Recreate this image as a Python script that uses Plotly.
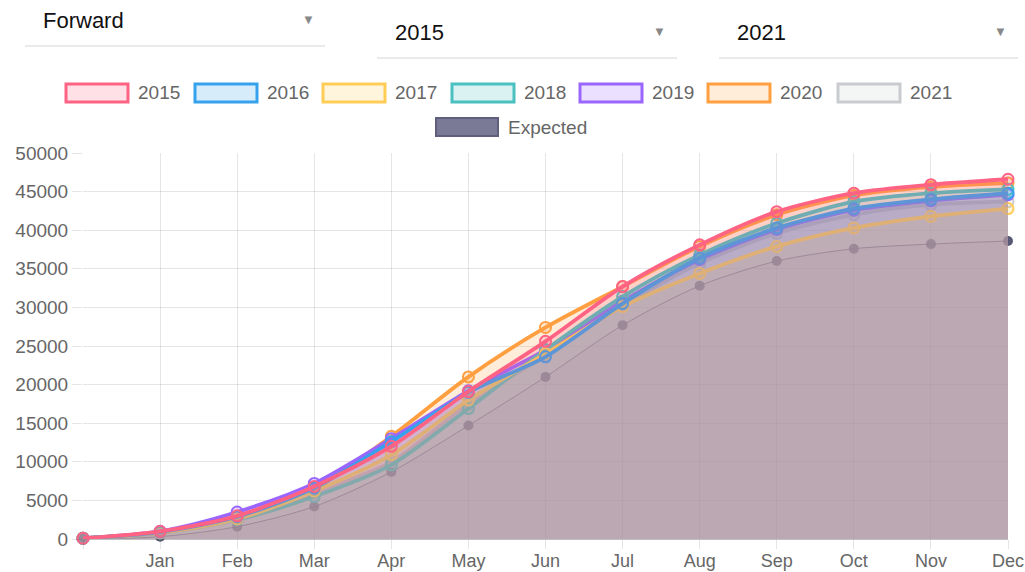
import plotly.graph_objects as go

months = ["", "Jan", "Feb", "Mar", "Apr", "May", "Jun", "Jul", "Aug", "Sep", "Oct", "Nov", "Dec"]

y2015 = [100, 1000, 3000, 6800, 12000, 19100, 25600, 32700, 38100, 42400, 44800, 45900, 46600]
y2016 = [100, 900, 2900, 6600, 12600, 19000, 23600, 30500, 36400, 40300, 42800, 44000, 44800]
y2017 = [100, 800, 2600, 6200, 10900, 18000, 24000, 30100, 34400, 37900, 40300, 41800, 42800]
y2018 = [100, 800, 2500, 5500, 9600, 16900, 24500, 31400, 36800, 40900, 43700, 44800, 45300]
y2019 = [100, 1000, 3500, 7200, 13000, 19200, 24500, 30800, 36200, 40100, 42600, 43800, 44600]
y2020 = [100, 900, 2800, 6500, 13300, 21000, 27400, 32700, 37900, 42000, 44500, 45600, 46100]
y2021 = [100, 800, 2700, 6000, 10000, 17500, 23800, 30200, 35700, 39600, 42000, 43300, 43700]
expected = [0, 300, 1600, 4200, 8700, 14700, 21000, 27700, 32800, 36000, 37600, 38200, 38600]

years = ["2015", "2016", "2017", "2018", "2019", "2020", "2021"]
series = [y2015, y2016, y2017, y2018, y2019, y2020, y2021]
colors = [(255, 99, 132), (54, 162, 235), (255, 205, 86), (75, 192, 192),
          (153, 102, 255), (255, 159, 64), (201, 203, 207)]

dropdown_labels = ["Forward", "2015", "2021"]

FONT = "Liberation Sans, Arial, Helvetica, sans-serif"
W, H = 1025, 572
L, R, T, B = 83, 1008, 153, 539

xs = list(range(len(months)))

fig = go.Figure()

# Expected drawn first (bottom), like Chart.js reverse draw order
fig.add_trace(go.Scatter(
    x=xs, y=expected, name="Expected", mode="lines+markers",
    line=dict(color="rgba(60,60,95,0.85)", width=1, shape="spline", smoothing=0.8),
    marker=dict(size=10, color="rgba(60,60,95,0.85)", line=dict(width=0)),
    fill="tozeroy", fillcolor="rgba(60,60,95,0.13)", cliponaxis=False, showlegend=False))

for name, vals, c in reversed(list(zip(years, series, colors))):
    rgb = "rgb(%d,%d,%d)" % c
    rgba = "rgba(%d,%d,%d,0.2)" % c
    fig.add_trace(go.Scatter(
        x=xs, y=vals, name=name, mode="lines+markers",
        line=dict(color=rgb, width=3.8, shape="spline", smoothing=0.8),
        marker=dict(size=11, color=rgba, line=dict(color=rgb, width=2)),
        fill="tozeroy", fillcolor=rgba, cliponaxis=False, showlegend=False))


def px(x):
    return (x - L) / (R - L)


def py(y):
    return (B - y) / (B - T)


shapes = []
annotations = []

# Custom Chart.js-like legend
legend_box_x = [66, 195, 323, 452, 580, 708, 838]
for name, c, bx in zip(years, colors, legend_box_x):
    shapes.append(dict(type="rect", xref="paper", yref="paper",
                       x0=px(bx), x1=px(bx + 62), y0=py(102), y1=py(84),
                       line=dict(color="rgb(%d,%d,%d)" % c, width=3),
                       fillcolor="rgba(%d,%d,%d,0.2)" % c))
    annotations.append(dict(xref="paper", yref="paper", x=px(bx + 70), y=py(93),
                            text=name, showarrow=False, xanchor="left", yanchor="middle",
                            font=dict(family=FONT, size=19, color="#666")))
shapes.append(dict(type="rect", xref="paper", yref="paper",
                   x0=px(436), x1=px(498), y0=py(136), y1=py(118),
                   line=dict(color="rgb(95,95,125)", width=2),
                   fillcolor="rgb(122,122,150)"))
annotations.append(dict(xref="paper", yref="paper", x=px(506), y=py(127),
                        text="Expected", showarrow=False, xanchor="left", yanchor="middle",
                        font=dict(family=FONT, size=19, color="#666")))

# Dropdown-like controls at the top
dd = [(41, 20, 25, 325, 46, 308), (393, 32, 377, 677, 58, 659), (735, 32, 719, 1018, 58, 1000)]
for label, (tx, ty, lx0, lx1, ly, ax) in zip(dropdown_labels, dd):
    annotations.append(dict(xref="paper", yref="paper", x=px(tx), y=py(ty),
                            text=label, showarrow=False, xanchor="left", yanchor="middle",
                            font=dict(family=FONT, size=22, color="#111")))
    annotations.append(dict(xref="paper", yref="paper", x=px(ax), y=py(ty - 1),
                            text="▼", showarrow=False, xanchor="center", yanchor="middle",
                            font=dict(family=FONT, size=13, color="#888")))
    shapes.append(dict(type="line", xref="paper", yref="paper",
                       x0=px(lx0), x1=px(lx1), y0=py(ly), y1=py(ly),
                       line=dict(color="#e3e3e3", width=1.5)))

fig.update_layout(
    width=W, height=H, autosize=False,
    margin=dict(l=L, r=W - R, t=T, b=H - B, pad=0),
    paper_bgcolor="white", plot_bgcolor="white",
    font=dict(family=FONT, size=19, color="#666"),
    shapes=shapes, annotations=annotations, showlegend=False,
    xaxis=dict(range=[0, len(months) - 1], tickmode="array", tickvals=xs, ticktext=months,
               showgrid=True, gridcolor="rgba(0,0,0,0.1)", gridwidth=1,
               ticks="outside", ticklen=9, tickcolor="rgba(0,0,0,0.1)",
               ticklabelstandoff=-4,
               showline=False, zeroline=False, tickfont=dict(size=18, color="#666"),
               automargin=False, fixedrange=True),
    yaxis=dict(range=[0, 50000], dtick=5000, tickformat="d",
               showgrid=True, gridcolor="rgba(0,0,0,0.1)", gridwidth=1,
               ticks="outside", ticklen=10, tickcolor="rgba(0,0,0,0.1)",
               zeroline=True, zerolinecolor="rgba(0,0,0,0.25)", zerolinewidth=1,
               showline=False, tickfont=dict(size=19, color="#666"),
               automargin=False, fixedrange=True),
)

fig.write_html("out.html", config={"displayModeBar": False},
               post_script="document.body.style.margin='0';document.body.style.overflow='hidden';")
